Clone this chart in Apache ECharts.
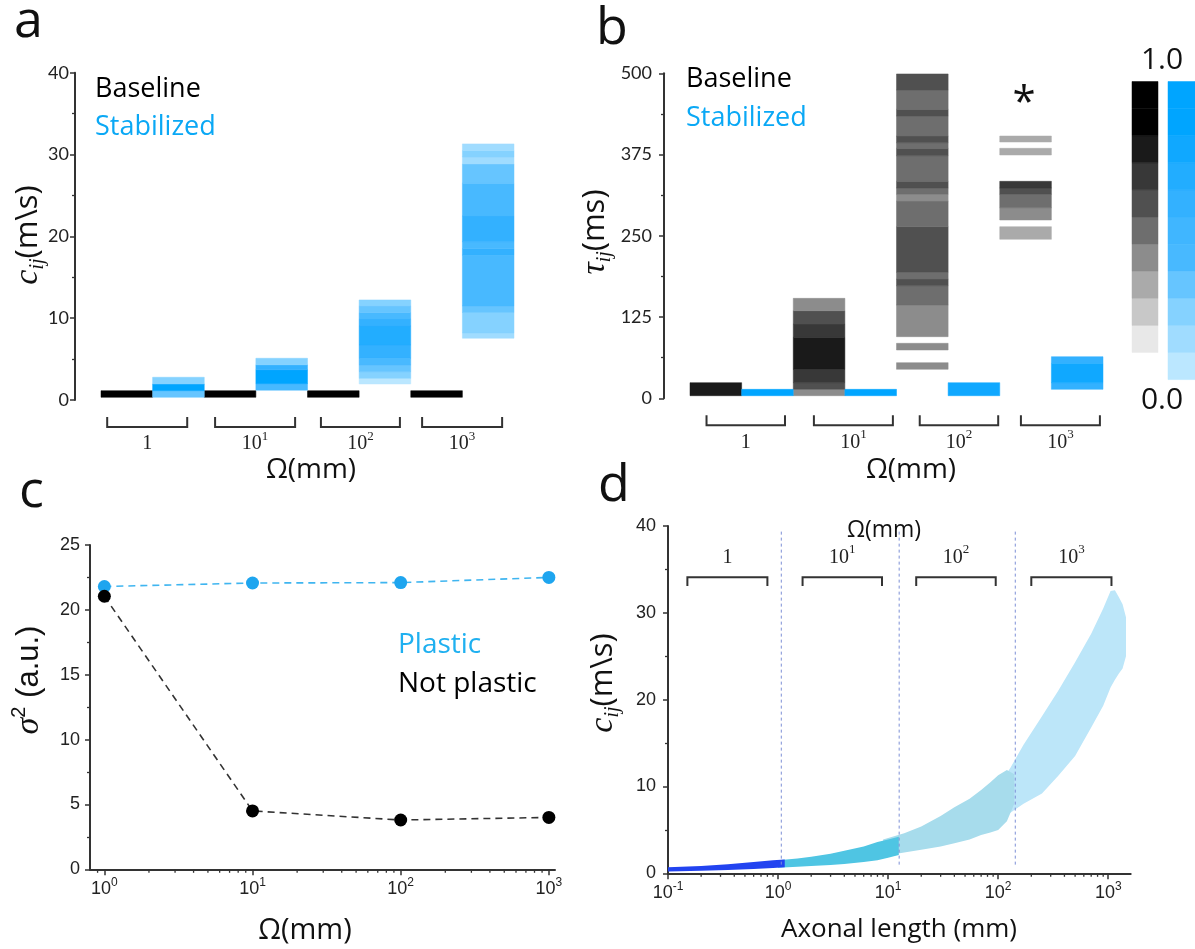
<!DOCTYPE html>
<html>
<head>
<meta charset="utf-8">
<title>Conduction velocities and delays</title>
<script src="https://cdn.jsdelivr.net/npm/echarts@6/dist/echarts.min.js"></script>
<style>
  html, body { margin: 0; padding: 0; background: #fff; }
  #chart { width: 1195px; height: 949px; }
</style>
</head>
<body>
<div id="chart"></div>
<script>
// colour scales of the two colour bars, index 0 = 0.0 ... last = 1.0
const grayScale = ['#e8e8e8', '#c8c8c8', '#aaaaaa', '#8c8c8c', '#6e6e6e', '#505050', '#383838', '#1a1a1a', '#000000', '#000000'];
const blueScale = ['#bbe7ff', '#a0dcff', '#85d2ff', '#66c5ff', '#48b9ff', '#40b6ff', '#33b1ff', '#22adff', '#10a8ff', '#00a5ff', '#00a5ff'];

const omegaLabels = ['{m|1}', '{m|10}{s|1}', '{m|10}{s|2}', '{m|10}{s|3}'];

// panel a : [slot, low, high, colour level]  (c_ij in m/s)
const aBaseline = [[0, 0.33, 1.14, 9], [2, 0.33, 1.14, 9], [4, 0.33, 1.14, 9], [6, 0.33, 1.14, 9]];
const aStabilized = [
  [1, 0.33, 1.14, 3], [1, 1.14, 1.96, 9], [1, 1.96, 2.78, 2],
  [3, 1.2, 2.0, 4], [3, 2.0, 3.7, 9], [3, 3.7, 4.3, 6], [3, 4.3, 5.1, 2],
  [5, 1.96, 2.65, 0], [5, 2.65, 3.46, 2], [5, 3.46, 4.28, 3], [5, 4.28, 5.1, 4], [5, 5.1, 6.73, 6],
  [5, 6.73, 9.05, 7], [5, 9.05, 9.9, 6], [5, 9.9, 10.7, 4], [5, 10.7, 11.5, 3], [5, 11.5, 12.23, 2],
  [7, 7.55, 8.2, 1], [7, 8.2, 10.7, 2], [7, 10.7, 11.5, 3], [7, 11.5, 17.7, 4], [7, 17.7, 18.5, 6],
  [7, 18.5, 19.35, 4], [7, 19.35, 22.5, 6], [7, 22.5, 26.5, 4], [7, 26.5, 28.85, 3], [7, 28.85, 29.7, 1],
  [7, 29.7, 30.5, 2], [7, 30.5, 31.3, 1]
];

// panel b : [slot, low, high, colour level]  (tau_ij in ms)
const bBaseline = [
  [0, 4, 24, 7],
  [2, 4, 13.8, 3], [2, 13.8, 24, 5], [2, 24, 44.6, 6], [2, 44.6, 93.8, 7], [2, 93.8, 114.3, 6], [2, 114.3, 134.8, 5], [2, 134.8, 153.8, 3],
  [4, 44.6, 54.8, 3], [4, 74.3, 84.6, 3], [4, 94.8, 143.5, 3], [4, 143.5, 173.2, 4], [4, 173.2, 183.5, 5],
  [4, 183.5, 193.8, 4], [4, 193.8, 264, 5], [4, 264, 303.5, 4], [4, 303.5, 313.8, 3], [4, 313.8, 323.5, 4],
  [4, 323.5, 333.8, 5], [4, 333.8, 373.2, 4], [4, 373.2, 384.6, 5], [4, 384.6, 393.2, 4], [4, 393.2, 403.5, 5],
  [4, 403.5, 434.3, 4], [4, 434.3, 444.6, 5], [4, 444.6, 474.3, 4], [4, 474.3, 499, 5],
  [6, 244.6, 264, 2], [6, 274.3, 293.2, 3], [6, 293.2, 313.8, 4], [6, 313.8, 323.5, 5], [6, 323.5, 333.8, 6],
  [6, 374.3, 384.6, 2], [6, 394.3, 403.5, 2]
];
const bStabilized = [[1, 4, 13.8, 9], [3, 4, 13.8, 9], [5, 4, 24, 8], [7, 13.8, 24, 6], [7, 24, 53.8, 8], [7, 53.8, 64, 6]];

// panel c
const omegaValues = [1, 10, 100, 1000];
const plasticVar = [21.8, 22.07, 22.1, 22.5];
const notPlasticVar = [21.05, 4.5, 3.8, 4.0];

// panel d : point clouds as [axonal length, lower c_ij, upper c_ij]
const dCloud1 = [[0.1, 0.2, 0.7], [0.2, 0.28, 0.85], [0.35, 0.38, 1.05], [0.6, 0.5, 1.3], [0.9, 0.6, 1.5], [1.15, 0.7, 1.6]];
const dCloud10 = [[1.0, 0.65, 1.5], [1.5, 0.75, 1.7], [2, 0.85, 1.9], [3, 0.95, 2.25], [4, 1.07, 2.6], [6, 1.3, 3.1], [8, 1.5, 3.6], [10, 1.8, 3.9], [12.5, 2.1, 4.2]];
const dCloud100 = [[9, 2.0, 3.9], [14, 2.4, 4.6], [20, 2.7, 5.4], [30, 3.1, 6.6], [40, 3.45, 7.6], [55, 3.9, 8.6], [70, 4.4, 9.6], [85, 4.7, 10.5], [100, 5.0, 11.3], [120, 6.0, 11.9], [140, 8.0, 11.4]];
const dCloud1000 = [[100, 6.0, 10.0], [130, 7.0, 12.2], [170, 8.0, 14.8], [250, 9.2, 18.1], [350, 11.2, 21.0], [500, 13.5, 24.3], [700, 16.8, 27.6], [900, 19.3, 30.5], [1050, 21.4, 32.5], [1150, 22.3, 32.6], [1250, 23.0, 31.8], [1350, 23.6, 31.0], [1450, 25, 29.5]];
const dDividers = [1.07, 12.6, 143];

// bracket spans under / over each Omega group
const aBracketSpans = [[0.12, 1.67], [2.21, 3.76], [4.26, 5.79], [6.22, 7.77]];
const bBracketSpans = [[0.32, 1.84], [2.4, 3.93], [4.45, 5.97], [6.41, 7.94]];
const dBracketSpans = [[0.15, 0.8], [1.67, 8.8], [18, 95], [200, 1070]];

const minorC = [0.9];
const minorD = [];
[0.1, 1, 10, 100].forEach(function (d) {
  for (let k = 2; k <= 9; k++) {
    minorD.push(d * k);
    if (d >= 1) minorC.push(d * k);
  }
});

const chart = echarts.init(document.getElementById('chart'));

const axisColor = '#333';
const serifRich = {
  m: { fontFamily: 'Liberation Serif', fontSize: 20, lineHeight: 28, fill: '#222' },
  s: { fontFamily: 'Liberation Serif', fontSize: 13, lineHeight: 13, verticalAlign: 'top', fill: '#222' }
};

function stripes(palette) {
  return function (params, api) {
    const slot = api.value(0);
    const tl = api.coord([slot, api.value(2)]);
    const br = api.coord([slot + 1, api.value(1)]);
    const c = palette[api.value(3)];
    return {
      type: 'rect',
      shape: { x: tl[0], y: tl[1], width: br[0] - tl[0], height: br[1] - tl[1] },
      style: { fill: c, stroke: c, lineWidth: 0.5 }
    };
  };
}

function bracketsBelow(params, api) {
  const l = api.coord([api.value(0), 0]);
  const r = api.coord([api.value(1), 0]);
  const y = l[1];
  return {
    type: 'group',
    children: [
      { type: 'polyline', shape: { points: [[l[0], y + 17], [l[0], y + 27], [r[0], y + 27], [r[0], y + 17]] },
        style: { stroke: axisColor, lineWidth: 2, fill: null } },
      { type: 'text', x: (l[0] + r[0]) / 2, y: y + 44,
        style: { text: omegaLabels[params.dataIndex], align: 'center', verticalAlign: 'middle', rich: serifRich } }
    ]
  };
}

function bracketsAbove(params, api) {
  const l = api.coord([api.value(0), 34.1]);
  const r = api.coord([api.value(1), 34.1]);
  const end = api.coord([api.value(0), 33.1])[1];
  const txt = api.coord([api.value(0), 36.4])[1];
  return {
    type: 'group',
    children: [
      { type: 'polyline', shape: { points: [[l[0], end], [l[0], l[1]], [r[0], r[1]], [r[0], end]] },
        style: { stroke: axisColor, lineWidth: 2, fill: null } },
      { type: 'text', x: (l[0] + r[0]) / 2, y: txt,
        style: { text: omegaLabels[params.dataIndex], align: 'center', verticalAlign: 'middle', rich: serifRich } }
    ]
  };
}

function cloud(band, color) {
  return function (params, api) {
    if (params.dataIndex !== 0) return null;
    const upper = band.map(function (p) { return api.coord([p[0], p[2]]); });
    const lower = band.slice().reverse().map(function (p) { return api.coord([p[0], p[1]]); });
    return { type: 'polygon', shape: { points: upper.concat(lower) }, style: { fill: color } };
  };
}

function minorTicks(params, api) {
  const p = api.coord([api.value(0), api.value(1)]);
  return { type: 'line', shape: { x1: p[0], y1: p[1], x2: p[0], y2: p[1] + 3.5 }, style: { stroke: axisColor, lineWidth: 1.3 } };
}

function dividers(params, api) {
  const a = api.coord([api.value(0), 1]);
  const b = api.coord([api.value(0), 39.4]);
  return { type: 'line', shape: { x1: a[0], y1: a[1], x2: b[0], y2: b[1] }, style: { stroke: '#7d90d6', lineWidth: 1, lineDash: [3, 3] } };
}

function powerLabel(v) {
  const e = Math.log10(v);
  if (Math.abs(e - Math.round(e)) > 0.01) return '';
  return '{m|10}{s|' + Math.round(e) + '}';
}

function yAxisStyle(gridIndex, max, interval, offset, font, margin) {
  return {
    gridIndex: gridIndex, type: 'value', min: 0, max: max, interval: interval, offset: offset,
    axisLine: { show: true, onZero: false, lineStyle: { color: axisColor, width: 2 } },
    axisTick: { show: true, length: 5, lineStyle: { color: axisColor, width: 1.5 } },
    minorTick: { show: true, splitNumber: 2, length: 3, lineStyle: { color: axisColor, width: 1.3 } },
    axisLabel: { margin: margin, fontFamily: font, fontSize: 18, color: '#222' },
    splitLine: { show: false }
  };
}

function logXAxis(gridIndex, min, max, ticks) {
  return {
    gridIndex: gridIndex, type: 'log', logBase: 10, min: min, max: max,
    axisLine: { show: true, onZero: false, lineStyle: { color: axisColor, width: 2 } },
    axisTick: { show: true, customValues: ticks, length: 6, lineStyle: { color: axisColor, width: 1.5 } },
    minorTick: { show: false },
    axisLabel: { customValues: ticks, margin: 7, formatter: powerLabel,
      rich: {
        m: { fontFamily: 'Liberation Sans', fontSize: 18, lineHeight: 26, color: '#222' },
        s: { fontFamily: 'Liberation Sans', fontSize: 12, lineHeight: 12, color: '#222', verticalAlign: 'top' }
      } },
    splitLine: { show: false }
  };
}

function text(x, y, str, font, fill, align) {
  return { type: 'text', x: x, y: y, z: 10,
    style: { text: str, font: font, fill: fill || '#111', align: align || 'left', verticalAlign: 'middle' } };
}

const nameRich = {
  v: { fontFamily: 'Liberation Serif', fontStyle: 'italic', fontSize: 34, fill: '#111', lineHeight: 40 },
  sub: { fontFamily: 'Liberation Serif', fontStyle: 'italic', fontSize: 20, fill: '#111', verticalAlign: 'bottom', lineHeight: 20 },
  sup: { fontFamily: 'Liberation Sans', fontSize: 20, fill: '#111', verticalAlign: 'top', lineHeight: 20 },
  u: { fontFamily: 'Open Sans', fontSize: 31, fill: '#111', lineHeight: 40 },
  w: { fontFamily: 'Liberation Sans', fontSize: 31, fill: '#111', lineHeight: 40 }
};

function yName(x, y, str) {
  return { type: 'text', x: x, y: y, rotation: Math.PI / 2,
    style: { text: str, align: 'center', verticalAlign: 'middle', rich: nameRich } };
}

const graphics = [
  text(14, 22, 'a', '52px "Open Sans"'),
  text(596, 29, 'b', '52px "Open Sans"'),
  text(19, 492, 'c', '52px "Open Sans"'),
  text(598, 486, 'd', '52px "Open Sans"'),
  text(95, 89, 'Baseline', '27px "Open Sans"', '#000'),
  text(95, 127, 'Stabilized', '27px "Open Sans"', '#0aa8f5'),
  text(686, 79, 'Baseline', '27px "Open Sans"', '#000'),
  text(686, 118, 'Stabilized', '27px "Open Sans"', '#0aa8f5'),
  text(398, 645, 'Plastic', '28px "Open Sans"', '#1fb0f0'),
  text(398, 684, 'Not plastic', '28px "Open Sans"', '#000'),
  text(1024, 104, '*', '42px "Open Sans"', '#111', 'center'),
  text(1162, 60, '1.0', '30px "Open Sans"', '#111', 'center'),
  text(1162, 400, '0.0', '30px "Open Sans"', '#111', 'center'),
  text(311, 470, 'Ω(mm)', '28px "Open Sans"', '#111', 'center'),
  text(911, 470, 'Ω(mm)', '28px "Open Sans"', '#111', 'center'),
  text(305, 931, 'Ω(mm)', '29px "Open Sans"', '#111', 'center'),
  text(884, 530, 'Ω(mm)', '23px "Open Sans"', '#111', 'center'),
  text(899, 930, 'Axonal length (mm)', '26px "Open Sans"', '#111', 'center'),
  yName(28, 235, '{v|c}{sub|ij}{u|(m\\s)}'),
  yName(595, 232, '{v|τ}{sub|ij}{u|(ms)}'),
  yName(29, 680, '{v|σ}{sup|2}{w| (a.u.)}'),
  yName(603, 683, '{v|c}{sub|ij}{u|(m\\s)}')
];

// colour bars
const cellH = 27.1;
grayScale.forEach(function (c, i) {
  graphics.push({ type: 'rect', shape: { x: 1132, y: 81.5 + (grayScale.length - 1 - i) * cellH, width: 26, height: cellH },
    style: { fill: c, stroke: c, lineWidth: 0.5 } });
});
blueScale.forEach(function (c, i) {
  graphics.push({ type: 'rect', shape: { x: 1168, y: 81.5 + (blueScale.length - 1 - i) * cellH, width: 27, height: cellH },
    style: { fill: c, stroke: c, lineWidth: 0.5 } });
});

const option = {
  animation: false,
  grid: [
    { left: 101, top: 72.7, width: 413, height: 327.3 },
    { left: 690, top: 73.3, width: 413, height: 325 },
    { left: 90, top: 545, width: 465, height: 324.3 },
    { left: 668, top: 526, width: 462.7, height: 347.3 }
  ],
  xAxis: [
    { gridIndex: 0, type: 'value', min: 0, max: 8, show: false },
    { gridIndex: 1, type: 'value', min: 0, max: 8, show: false },
    logXAxis(2, 0.8, 1100, omegaValues),
    logXAxis(3, 0.1, 1600, [0.1, 1, 10, 100, 1000])
  ],
  yAxis: [
    yAxisStyle(0, 40, 10, 26, 'Lato', 6),
    yAxisStyle(1, 500, 125, 26, 'Lato', 12),
    yAxisStyle(2, 25, 5, 0, 'Liberation Sans', 10),
    yAxisStyle(3, 40, 10, 0, 'Liberation Sans', 12)
  ],
  series: [
    { type: 'custom', xAxisIndex: 0, yAxisIndex: 0, renderItem: stripes(grayScale), data: aBaseline, clip: false },
    { type: 'custom', xAxisIndex: 0, yAxisIndex: 0, renderItem: stripes(blueScale), data: aStabilized, clip: false },
    { type: 'custom', xAxisIndex: 0, yAxisIndex: 0, renderItem: bracketsBelow, data: aBracketSpans, clip: false },
    { type: 'custom', xAxisIndex: 1, yAxisIndex: 1, renderItem: stripes(grayScale), data: bBaseline, clip: false },
    { type: 'custom', xAxisIndex: 1, yAxisIndex: 1, renderItem: stripes(blueScale), data: bStabilized, clip: false },
    { type: 'custom', xAxisIndex: 1, yAxisIndex: 1, renderItem: bracketsBelow, data: bBracketSpans, clip: false },
    {
      name: 'Plastic', type: 'line', xAxisIndex: 2, yAxisIndex: 2,
      data: omegaValues.map(function (o, i) { return [o, plasticVar[i]]; }),
      symbol: 'circle', symbolSize: 13, itemStyle: { color: '#1ea5ef' },
      lineStyle: { color: '#3fb5f0', width: 1.6, type: [7, 5] }
    },
    {
      name: 'Not plastic', type: 'line', xAxisIndex: 2, yAxisIndex: 2,
      data: omegaValues.map(function (o, i) { return [o, notPlasticVar[i]]; }),
      symbol: 'circle', symbolSize: 13, itemStyle: { color: '#000' },
      lineStyle: { color: '#333', width: 1.6, type: [7, 5] }
    },
    { type: 'custom', xAxisIndex: 2, yAxisIndex: 2, renderItem: minorTicks, data: minorC.map(function (v) { return [v, 0]; }), clip: false },
    { type: 'custom', xAxisIndex: 3, yAxisIndex: 3, renderItem: cloud(dCloud1000, '#bce6f9'), data: dCloud1000, clip: false },
    { type: 'custom', xAxisIndex: 3, yAxisIndex: 3, renderItem: cloud(dCloud100, '#a7dcec'), data: dCloud100, clip: false },
    { type: 'custom', xAxisIndex: 3, yAxisIndex: 3, renderItem: cloud(dCloud10, '#4fc5e3'), data: dCloud10, clip: false },
    { type: 'custom', xAxisIndex: 3, yAxisIndex: 3, renderItem: cloud(dCloud1, '#2243f0'), data: dCloud1, clip: false },
    { type: 'custom', xAxisIndex: 3, yAxisIndex: 3, renderItem: dividers, data: dDividers.map(function (v) { return [v, 1]; }), clip: false },
    { type: 'custom', xAxisIndex: 3, yAxisIndex: 3, renderItem: bracketsAbove, data: dBracketSpans, clip: false },
    { type: 'custom', xAxisIndex: 3, yAxisIndex: 3, renderItem: minorTicks, data: minorD.map(function (v) { return [v, 0]; }), clip: false }
  ],
  graphic: graphics
};

chart.setOption(option);
</script>
</body>
</html>
